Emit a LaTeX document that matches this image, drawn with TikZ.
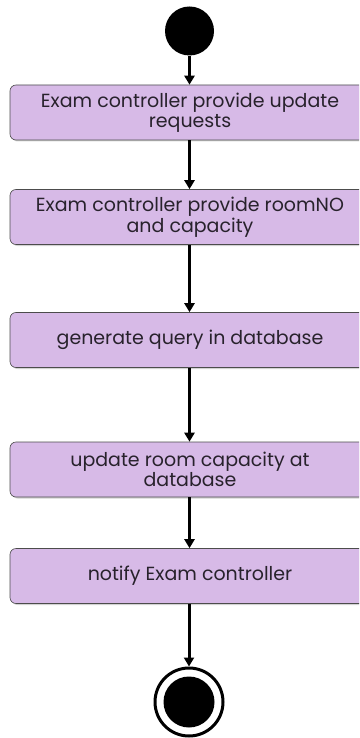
\documentclass[tikz,border=0pt]{standalone}
\usepackage{fontspec}
\setmainfont{Poppins}
\usepackage{tikz}
\usetikzlibrary{arrows.meta, shadows}
\definecolor{actfill}{RGB}{215, 186, 231}
\definecolor{acttext}{RGB}{40, 34, 44}

\tikzset{
  activity/.style={draw=black!70, fill=actfill, rounded corners=6pt, line width=0.6pt,
    minimum width=360pt, minimum height=55pt, align=center, text=acttext,
    font=\fontsize{19pt}{20.5pt}\selectfont,
    drop shadow={shadow xshift=1.5pt, shadow yshift=-1.5pt, opacity=0.35}},
  flow/.style={-{Triangle[width=10pt,length=9pt]}, line width=3pt, line cap=butt},
}

\begin{document}
\begin{tikzpicture}[x=1pt, y=1pt]
\useasboundingbox (0,0) rectangle (359,-738);
\clip (0,0) rectangle (359,-738);
% start and end states
\fill[black] (189.5,-31) circle (24.5) coordinate (start);
\node[circle, minimum size=49pt, inner sep=0pt] (init) at (189.5,-31) {};
% activities
\node[activity] (req) at (190,-112.5) {Exam controller provide update\\requests};
\node[activity] (room) at (190,-217) {Exam controller provide roomNO\\and capacity};
\node[activity] (query) at (190,-340) {generate query in database};
\node[activity] (upd) at (190,-469.5) {update room capacity at\\database};
\node[activity] (notify) at (190,-576) {notify Exam controller};
% final state
\node[circle, draw=black, line width=3pt, minimum size=68pt, inner sep=0pt] (final) at (189,-702) {};
\fill[black] (final.center) circle (25.5);
% flows
\draw[flow] (init.south) -- (req.north -| init.south);
\draw[flow] (req.south -| init.south) -- (room.north -| init.south);
\draw[flow] (room.south -| init.south) -- (query.north -| init.south);
\draw[flow] (query.south -| init.south) -- (upd.north -| init.south);
\draw[flow] (upd.south -| init.south) -- (notify.north -| init.south);
\draw[flow] (notify.south -| final.north) -- (final.north);
\end{tikzpicture}
\end{document}
